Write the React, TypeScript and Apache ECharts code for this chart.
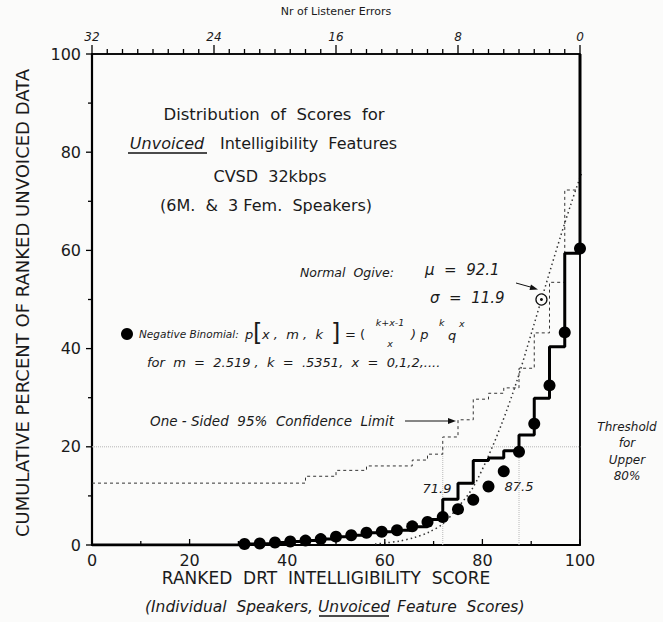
import React, { useEffect, useRef } from "react";
import * as echarts from "echarts";

// Negative binomial points: number of listener errors (top axis) and cumulative %
const dotErrors = [0, 1, 2, 3, 4, 5, 6, 7, 8, 9, 10, 11, 12, 13, 14, 15, 16, 17, 18, 19, 20, 21, 22];
const dotPercents = [60.4, 43.3, 32.5, 24.7, 19.0, 15.0, 11.9, 9.2, 7.3, 5.7, 4.7, 3.8, 3.0, 2.7, 2.5, 2.0, 1.7, 1.2, 0.9, 0.7, 0.5, 0.3, 0.2];

// Observed ranked data (thick step)
const stepScores = [0, 31.25, 34.375, 37.5, 40.625, 43.75, 46.875, 50, 53.125, 56.25, 59.375, 62.5, 65.625, 68.75, 71.875, 75, 78.125, 81.25, 84.375, 87.5, 90.625, 93.75, 96.875, 100];
const stepPercents = [0, 0.2, 0.3, 0.5, 0.7, 0.9, 1.2, 1.7, 2.0, 2.5, 2.7, 3.0, 3.7, 5.2, 9.3, 12.6, 17.2, 17.7, 19.2, 22.4, 29.9, 40.4, 59.4, 100];

// One-sided 95% confidence limit (dashed step)
const limitScores = [0, 43.75, 50, 56.25, 65.625, 68.75, 71.875, 75, 78.125, 81.25, 84.375, 87.5, 90.625, 93.75, 96.875, 100];
const limitPercents = [12.6, 14.0, 15.2, 16.1, 17.3, 18.5, 22.0, 25.5, 29.7, 30.9, 32.0, 36.0, 43.2, 53.5, 72.3, 100];

// Normal ogive (dotted curve)
const ogiveScores = [58, 60, 63, 66, 69, 72, 75, 78, 81, 84, 87, 90, 92.1, 94, 96, 98, 100, 102, 104.5];
const ogivePercents = [0.2, 0.4, 0.8, 1.5, 2.6, 4.4, 7.7, 11.6, 17.6, 24.8, 33.2, 43.0, 50.0, 56.3, 62.8, 69.0, 74.8, 79.8, 85.3];

// Axis ticks
const scoreTicks = [0, 10, 20, 30, 40, 50, 60, 70, 80, 90, 100];
const percentTicks = [0, 10, 20, 30, 40, 50, 60, 70, 80, 90, 100];
const errorTicks = [0, 1, 2, 3, 4, 5, 6, 7, 8, 9, 10, 11, 12, 13, 14, 15, 16, 17, 18, 19, 20, 21, 22, 23, 24, 25, 26, 27, 28, 29, 30, 31, 32];

const ogiveMean = 92.1;
const ogiveMid = 50;
const thresholdPercent = 20;
const markedScores = [71.875, 87.5];
const scoreMin = 0;
const scoreMax = 100;
const percentMax = 100;
const errorMax = 32;

const INK = "#000000";
const FONT = "DejaVu Sans";
const BG = "#fbfbfa";

function txt(text: string, x: number, y: number, opts: any = {}) {
  return {
    type: "text",
    x,
    y,
    rotation: opts.rotation || 0,
    silent: true,
    style: {
      text,
      fill: opts.fill || "#1a1a1a",
      fontSize: opts.size || 15,
      fontFamily: opts.family || FONT,
      fontStyle: opts.italic ? "italic" : "normal",
      fontWeight: opts.weight || "normal",
      textAlign: opts.align || "left",
      textVerticalAlign: "middle",
    },
  };
}

function hline(x1: number, y1: number, x2: number, y2: number, w = 1.2) {
  return {
    type: "line",
    silent: true,
    shape: { x1, y1, x2, y2 },
    style: { stroke: "#111", lineWidth: w },
  };
}

export default function App() {
  const ref = useRef<HTMLDivElement>(null);

  useEffect(() => {
    if (!ref.current) return;
    const chart = echarts.init(ref.current, null, { renderer: "svg" });

    const pairs = (xs: number[], ys: number[]) => xs.map((x, i) => [x, ys[i]]);

    const markerSeries = markedScores.map((s) => ({
      type: "line",
      data: [[s, 0], [s, thresholdPercent]],
      symbol: "none",
      lineStyle: { color: "#b8b8b8", width: 1, type: "dotted" },
      z: 1,
    }));

    const tickSeries = (
      data: number[][],
      xIdx: number,
      yIdx: number,
      make: (p: number[], v: number[]) => number[]
    ) => ({
      type: "custom",
      xAxisIndex: xIdx,
      yAxisIndex: yIdx,
      clip: false,
      silent: true,
      z: 8,
      data,
      renderItem: (params: any, api: any) => {
        const v = [api.value(0), api.value(1)];
        const p = api.coord(v);
        const q = make(p, v);
        return {
          type: "line",
          shape: { x1: p[0], y1: p[1], x2: q[0], y2: q[1] },
          style: { stroke: INK, lineWidth: 1.3 },
        };
      },
    });

    const option: any = {
      animation: false,
      grid: { left: 92, right: 83, top: 54, bottom: 77 },
      xAxis: [
        {
          type: "value",
          min: scoreMin,
          max: scoreMax,
          interval: 20,
          position: "bottom",
          axisLine: { show: true, onZero: false, lineStyle: { color: INK, width: 2.2 } },
          axisTick: { show: false },
          axisLabel: { color: "#1a1a1a", fontSize: 16, fontFamily: FONT, margin: 7 },
          splitLine: { show: false },
        },
        {
          type: "value",
          min: 0,
          max: errorMax,
          interval: 8,
          inverse: true,
          position: "top",
          axisLine: { show: true, onZero: false, lineStyle: { color: INK, width: 1.5 } },
          axisTick: { show: false },
          axisLabel: { color: "#1a1a1a", fontSize: 12, fontStyle: "italic", fontFamily: FONT, margin: 11 },
          splitLine: { show: false },
          name: "Nr of Listener Errors",
          nameLocation: "middle",
          nameGap: 37,
          nameTextStyle: { color: "#1a1a1a", fontSize: 11, fontFamily: FONT },
        },
      ],
      yAxis: [
        {
          type: "value",
          min: 0,
          max: percentMax,
          interval: 20,
          position: "left",
          axisLine: { show: true, onZero: false, lineStyle: { color: INK, width: 2.2 } },
          axisTick: { show: false },
          axisLabel: { color: "#1a1a1a", fontSize: 16, fontFamily: FONT, margin: 11 },
          splitLine: { show: false },
        },
        {
          type: "value",
          min: 0,
          max: percentMax,
          interval: 20,
          position: "right",
          axisLine: { show: true, onZero: false, lineStyle: { color: INK, width: 1.5 } },
          axisTick: { show: false },
          axisLabel: { show: false },
          splitLine: { show: false },
        },
      ],
      series: [
        // frame: top and right borders
        {
          type: "line",
          data: [[scoreMin, percentMax], [scoreMax, percentMax]],
          symbol: "none",
          clip: false,
          lineStyle: { color: INK, width: 1.5 },
          z: 1,
        },
        {
          type: "line",
          data: [[scoreMax, 0], [scoreMax, percentMax]],
          symbol: "none",
          clip: false,
          lineStyle: { color: INK, width: 1.5 },
          z: 1,
        },
        // ticks
        tickSeries(scoreTicks.map((s) => [s, 0]), 0, 0, (p, v) => [p[0], p[1] - (v[0] % 20 === 0 ? 6 : 4)]),
        tickSeries(percentTicks.map((s) => [scoreMin, s]), 0, 0, (p, v) => [p[0] - (v[1] % 20 === 0 ? 6 : 4), p[1]]),
        tickSeries(errorTicks.map((e) => [e, percentMax]), 1, 1, (p, v) => [p[0], p[1] - (v[0] % 8 === 0 ? 9 : 5)]),
        {
          type: "line",
          data: [[scoreMin, thresholdPercent], [scoreMax, thresholdPercent]],
          symbol: "none",
          lineStyle: { color: "#b5b5b5", width: 1, type: "dotted" },
          z: 1,
        },
        {
          type: "line",
          data: [[scoreMax, thresholdPercent], [scoreMax + 2.5, thresholdPercent]],
          symbol: "none",
          clip: false,
          lineStyle: { color: "#444", width: 1 },
          z: 1,
        },
        ...markerSeries,
        {
          type: "line",
          step: "end",
          data: pairs(limitScores, limitPercents),
          symbol: "none",
          lineStyle: { color: "#333", width: 1, type: [3, 3] },
          z: 2,
        },
        {
          type: "line",
          smooth: 0.3,
          clip: false,
          data: pairs(ogiveScores, ogivePercents),
          symbol: "none",
          lineStyle: { color: "#333", width: 1.5, type: [1.5, 3] },
          z: 3,
        },
        {
          type: "line",
          step: "end",
          data: pairs(stepScores, stepPercents),
          symbol: "none",
          lineStyle: { color: "#000", width: 3 },
          z: 4,
        },
        {
          type: "scatter",
          xAxisIndex: 1,
          yAxisIndex: 1,
          data: pairs(dotErrors, dotPercents),
          symbol: "circle",
          symbolSize: 12,
          itemStyle: { color: "#000", opacity: 1 },
          z: 5,
        },
        {
          type: "scatter",
          data: [[ogiveMean, ogiveMid]],
          symbol: "circle",
          symbolSize: 11,
          itemStyle: { color: BG, borderColor: "#111", borderWidth: 1.3, opacity: 1 },
          z: 6,
        },
        {
          type: "scatter",
          data: [[ogiveMean, ogiveMid]],
          symbol: "circle",
          symbolSize: 3,
          itemStyle: { color: "#111", opacity: 1 },
          z: 7,
        },
      ],
      graphic: [
        txt("CUMULATIVE PERCENT OF RANKED UNVOICED DATA", 22, 303, { align: "center", size: 18, rotation: Math.PI / 2 }),
        txt("Distribution  of  Scores  for", 274, 114, { align: "center", size: 16.5 }),
        txt("Unvoiced", 167, 143, { align: "center", size: 16, italic: true }),
        hline(128, 153, 207, 153, 1.3),
        txt("Intelligibility  Features", 220, 143, { size: 16 }),
        txt("CVSD  32kbps", 270, 176, { align: "center", size: 16 }),
        txt("(6M.  &  3 Fem.  Speakers)", 266, 205, { align: "center", size: 16 }),
        txt("Normal  Ogive:", 300, 272, { size: 12.5, italic: true }),
        txt("μ  =  92.1", 425, 270, { size: 15, italic: true }),
        txt("σ  =  11.9", 430, 298, { size: 15, italic: true }),
        hline(516, 283, 534, 288, 1),
        { type: "polygon", silent: true, shape: { points: [[538, 289.5], [531, 284.5], [529.5, 290]] }, style: { fill: "#111" } },
        { type: "circle", silent: true, shape: { cx: 127, cy: 334, r: 6 }, style: { fill: "#000" } },
        txt("Negative Binomial:", 139, 334, { size: 10.5, italic: true }),
        txt("p", 245, 334, { size: 13, italic: true }),
        txt("[", 253, 333, { size: 24 }),
        txt("x ,  m ,  k", 262, 334, { size: 13, italic: true }),
        txt("]", 331, 333, { size: 24 }),
        txt("= (", 345, 334, { size: 13 }),
        txt("k+x-1", 390, 322, { size: 9.5, italic: true, align: "center" }),
        txt("x", 390, 343, { size: 9.5, italic: true, align: "center" }),
        txt(") p", 411, 334, { size: 13, italic: true }),
        txt("k", 439, 322, { size: 9.5, italic: true }),
        txt("q", 448, 335, { size: 13, italic: true }),
        txt("x", 459, 323, { size: 9.5, italic: true }),
        txt("for  m  =  2.519 ,  k  =  .5351,  x  =  0,1,2,....", 147, 362, { size: 13, italic: true }),
        txt("One - Sided  95%  Confidence  Limit", 150, 421, { size: 13.5, italic: true }),
        hline(405, 421, 450, 421, 1),
        { type: "polygon", silent: true, shape: { points: [[456, 421], [448, 418], [448, 424]] }, style: { fill: "#111" } },
        txt("71.9", 437, 488, { size: 13, italic: true, align: "center" }),
        txt("87.5", 519, 486, { size: 13, italic: true, align: "center" }),
        txt("Threshold", 627, 427, { size: 12, italic: true, align: "center" }),
        txt("for", 627, 443, { size: 12, italic: true, align: "center" }),
        txt("Upper", 627, 460, { size: 12, italic: true, align: "center" }),
        txt("80%", 627, 476, { size: 12, italic: true, align: "center" }),
        txt("RANKED  DRT  INTELLIGIBILITY  SCORE", 326, 578, { size: 17, align: "center" }),
        txt("(Individual  Speakers,", 313, 607, { size: 15.5, italic: true, align: "right" }),
        txt("Unvoiced", 354, 607, { size: 15.5, italic: true, align: "center" }),
        hline(319, 616, 389, 616, 1.3),
        txt("Feature  Scores)", 397, 607, { size: 15.5, italic: true }),
      ],
    };

    chart.setOption(option);
    return () => chart.dispose();
  }, []);

  return (
    <div
      ref={ref}
      style={{ position: "fixed", left: 0, top: 0, width: 663, height: 622, background: BG }}
    />
  );
}
